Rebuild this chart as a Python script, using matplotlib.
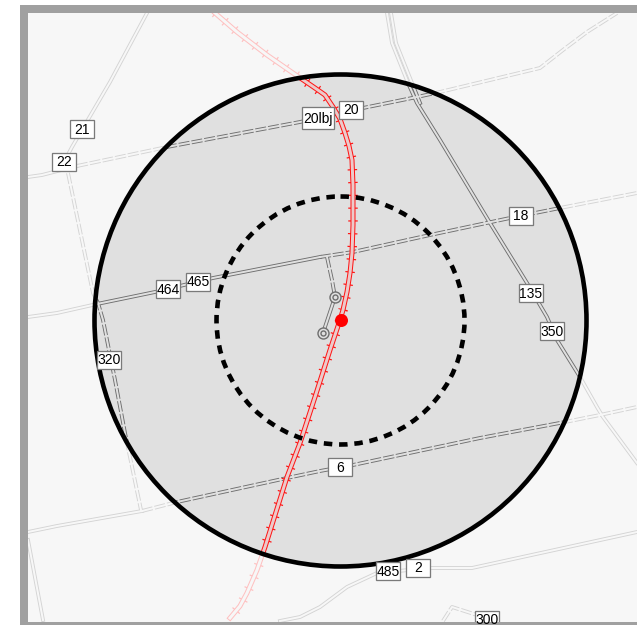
import matplotlib
matplotlib.use("Agg")
import matplotlib.pyplot as plt
from matplotlib.patches import Circle, Rectangle

plt.rcParams['font.family'] = ['Liberation Sans', 'DejaVu Sans']
plt.rcParams['lines.scale_dashes'] = False

PX = 0.72  # one image pixel in points at dpi 100

# Map data, in image pixels
center = (340.5, 320.5)
outer_radius = 246
inner_radius = 124
site = (340.5, 319.5)

rail_x = [215, 237, 267, 293, 315, 325, 333, 340, 345, 349, 352, 353, 353, 352, 350, 347, 343, 340, 330, 315, 300, 287, 265, 257, 247, 240, 230]
rail_y = [13, 32, 55, 73, 88, 95, 107, 119, 133, 146, 160, 185, 225, 253, 273, 292, 310, 320, 350, 397, 443, 477, 547, 570, 593, 606, 618]

road_20w_x = [28, 42, 77]
road_20w_y = [177, 175, 166]

road_20_x = [77, 167, 300, 363, 417, 440, 540, 563, 587, 617]
road_20_y = [166, 147, 122, 108, 97, 92, 68, 50, 32, 13]

road_21_x = [147, 110, 72, 64]
road_21_y = [13, 82, 147, 162]

road_320_x = [68, 93, 98, 103, 115, 125, 141]
road_320_y = [173, 293, 303, 320, 380, 433, 510]

road_465_x = [28, 57, 97, 155, 213, 320]
road_465_y = [317, 313, 304, 292, 278, 257]

road_18_x = [320, 353, 430, 510, 560, 637]
road_18_y = [257, 252, 235, 218, 208, 193]

road_135_x = [387, 392, 398, 408, 417, 440, 490, 527, 547, 557, 580, 597, 603, 637]
road_135_y = [13, 43, 58, 83, 103, 140, 223, 283, 317, 340, 377, 407, 417, 463]

road_135n_x = [391, 396, 402, 412, 420]
road_135n_y = [13, 43, 58, 83, 103]

road_6w_x = [28, 57, 142]
road_6w_y = [532, 526, 511]

road_6e_x = [142, 177, 287, 320, 353, 480, 565, 600, 637]
road_6e_y = [511, 502, 478, 471, 465, 438, 422, 415, 407]

road_2_x = [280, 300, 320, 347, 377, 430, 472, 637]
road_2_y = [621, 617, 607, 587, 573, 568, 568, 532]

road_300_x = [443, 452, 477]
road_300_y = [621, 607, 615]

road_sw_x = [28, 43]
road_sw_y = [540, 620]

spur_x = [327, 332, 335]
spur_y = [257, 280, 297]

link_x = [335, 323]
link_y = [297, 333]

rings_x = [335, 323]
rings_y = [297, 333]

label_text = ["21", "22", "20lbj", "20", "464", "465", "18", "135", "350", "320", "6", "485", "2", "300"]
label_x = [82, 64, 318, 351, 168, 198, 521, 531, 552, 109, 340, 388, 418, 487]
label_y = [129, 162, 118, 110, 289, 282, 216, 293, 331, 360, 467, 571, 568, 620]

solid_roads = [(road_465_x, road_465_y), (road_135_x, road_135_y), (road_135n_x, road_135n_y),
               (road_6w_x, road_6w_y), (road_2_x, road_2_y), (road_sw_x, road_sw_y),
               (road_21_x, road_21_y), (road_20w_x, road_20w_y), (link_x, link_y)]
dashed_roads = [(road_20_x, road_20_y), (road_320_x, road_320_y), (road_18_x, road_18_y),
                (road_6e_x, road_6e_y), (road_300_x, road_300_y), (spur_x, spur_y)]


def draw_road(ax, x, y, color, gap, dashed, clip, z):
    style = (0, (11 * PX, 2 * PX)) if dashed else '-'
    casing, = ax.plot(x, y, color=color, lw=3.8 * PX, ls=style, zorder=z, solid_joinstyle='round')
    middle, = ax.plot(x, y, color=gap, lw=2.0 * PX, zorder=z + 0.1, solid_joinstyle='round')
    casing.set_clip_path(clip)
    middle.set_clip_path(clip)


def draw_rail(ax, color, gap, clip, z):
    ticks, = ax.plot(rail_x, rail_y, color=color, lw=9.5 * PX, ls=(0, (1.2 * PX, 11.6 * PX)),
                     dash_capstyle='butt', zorder=z)
    casing, = ax.plot(rail_x, rail_y, color=color, lw=5 * PX, zorder=z + 0.1, solid_joinstyle='round')
    middle, = ax.plot(rail_x, rail_y, color=gap, lw=3 * PX, zorder=z + 0.2, solid_joinstyle='round')
    for line in (ticks, casing, middle):
        line.set_clip_path(clip)


fig = plt.figure(figsize=(6.37, 6.25), dpi=100)
ax = fig.add_axes([0, 0, 1, 1])
ax.set_xlim(0, 637)
ax.set_ylim(625, 0)
ax.axis('off')

# grey frame and map background
ax.add_patch(Rectangle((20, 5), 617, 620, fc='#a0a0a0', ec='none', zorder=0))
map_area = Rectangle((28, 12.5), 609, 609, fc='#f7f7f7', ec='none', zorder=0.1)
ax.add_patch(map_area)

# faded roads outside the circle, the disc hides them inside
for x, y in solid_roads:
    draw_road(ax, x, y, '#d4d4d4', '#f7f7f7', False, map_area, 1)
for x, y in dashed_roads:
    draw_road(ax, x, y, '#d4d4d4', '#f7f7f7', True, map_area, 1)
draw_rail(ax, '#ffc0c0', '#f7f7f7', map_area, 1.5)

ax.add_patch(Circle(center, outer_radius, fc='#e0e0e0', ec='none', zorder=2))

# same things again in full colour, clipped to the circle
clip_disc = Circle(center, outer_radius, transform=ax.transData)
for x, y in solid_roads:
    draw_road(ax, x, y, '#6e6e6e', '#e0e0e0', False, clip_disc, 3)
for x, y in dashed_roads:
    draw_road(ax, x, y, '#6e6e6e', '#e0e0e0', True, clip_disc, 3)
draw_rail(ax, '#ff1414', '#eccaca', clip_disc, 4)

ax.plot(rings_x, rings_y, ls='none', marker='o', ms=11 * PX, mfc='#e0e0e0', mec='#6e6e6e', mew=1.4 * PX, zorder=5)
ax.plot(rings_x, rings_y, ls='none', marker='o', ms=5 * PX, mfc='#e0e0e0', mec='#6e6e6e', mew=1.4 * PX, zorder=5.1)

ax.add_patch(Circle(center, outer_radius, fc='none', ec='black', lw=4.6 * PX, zorder=6))
ax.add_patch(Circle(center, inner_radius, fc='none', ec='black', lw=4.6 * PX,
                    ls=(0, (8.5 * PX, 6.8 * PX)), zorder=6))
ax.plot(site[0], site[1], ls='none', marker='o', ms=13 * PX, color='#ff0000', mew=0, zorder=7)

for text, x, y in zip(label_text, label_x, label_y):
    w, h = (32, 22) if text == "20lbj" else (24, 18)
    box = Rectangle((x - w / 2, y - h / 2), w, h, fc='white', ec='#7a7a7a', lw=1.3 * PX, zorder=8)
    ax.add_patch(box)
    box.set_clip_path(map_area)
    label = ax.text(x, y + 0.5, text, ha='center', va='center', fontsize=10, color='black', zorder=9)
    label.set_clip_path(map_area)

fig.savefig("out.png", dpi=100)
